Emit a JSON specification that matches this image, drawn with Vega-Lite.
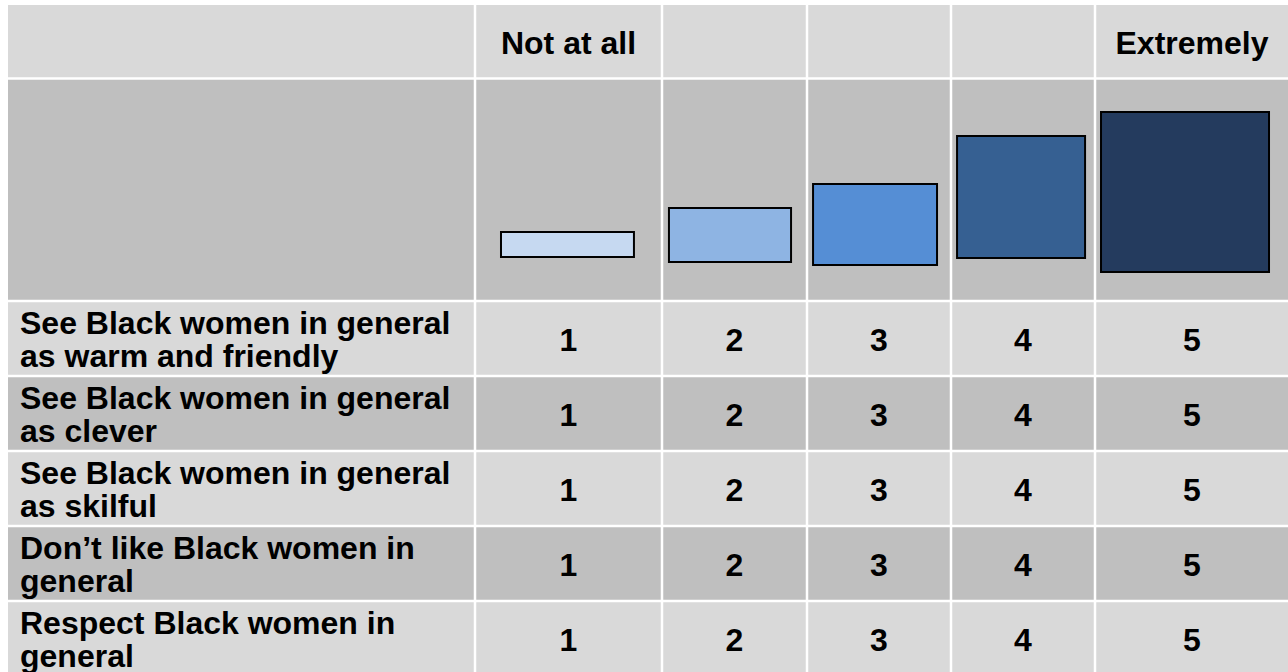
{
  "$schema": "https://vega.github.io/schema/vega-lite/v6.json",
  "width": 1288,
  "height": 672,
  "padding": 0,
  "autosize": {"type": "fit", "contains": "padding"},
  "background": "#ffffff",
  "config": {"view": {"stroke": null}, "text": {"font": "Liberation Sans"}},
  "datasets": {
    "rows": [
      {"r": 0, "r2": 1, "shade": "light"},
      {"r": 1, "r2": 2, "shade": "dark"},
      {"r": 2, "r2": 3, "shade": "light"},
      {"r": 3, "r2": 4, "shade": "dark"},
      {"r": 4, "r2": 5, "shade": "light"},
      {"r": 5, "r2": 6, "shade": "dark"},
      {"r": 6, "r2": 7, "shade": "light"}
    ],
    "colBorders": [{"c": 1}, {"c": 2}, {"c": 3}, {"c": 4}, {"c": 5}],
    "rowBorders": [{"r": 1}, {"r": 2}, {"r": 3}, {"r": 4}, {"r": 5}, {"r": 6}],
    "bars": [
      {"level": 1, "x0": 1.139, "x1": 1.850, "y0": 1.690, "y1": 1.802},
      {"level": 2, "x0": 2.048, "x1": 2.890, "y0": 1.582, "y1": 1.825},
      {"level": 3, "x0": 3.042, "x1": 3.903, "y0": 1.474, "y1": 1.838},
      {"level": 4, "x0": 4.042, "x1": 4.931, "y0": 1.258, "y1": 1.807},
      {"level": 5, "x0": 5.031, "x1": 5.897, "y0": 1.151, "y1": 1.870}
    ],
    "labels": [
      {"c": 0, "r": 2, "t": "See Black women in general\nas warm and friendly"},
      {"c": 0, "r": 3, "t": "See Black women in general\nas clever"},
      {"c": 0, "r": 4, "t": "See Black women in general\nas skilful"},
      {"c": 0, "r": 5, "t": "Don’t like Black women in\ngeneral"},
      {"c": 0, "r": 6, "t": "Respect Black women in\ngeneral"}
    ],
    "cells": [
      {"c": 1, "r": 0, "t": "Not at all"},
      {"c": 5, "r": 0, "t": "Extremely"},
      {"c": 1, "r": 2, "t": "1"}, {"c": 2, "r": 2, "t": "2"}, {"c": 3, "r": 2, "t": "3"}, {"c": 4, "r": 2, "t": "4"}, {"c": 5, "r": 2, "t": "5"},
      {"c": 1, "r": 3, "t": "1"}, {"c": 2, "r": 3, "t": "2"}, {"c": 3, "r": 3, "t": "3"}, {"c": 4, "r": 3, "t": "4"}, {"c": 5, "r": 3, "t": "5"},
      {"c": 1, "r": 4, "t": "1"}, {"c": 2, "r": 4, "t": "2"}, {"c": 3, "r": 4, "t": "3"}, {"c": 4, "r": 4, "t": "4"}, {"c": 5, "r": 4, "t": "5"},
      {"c": 1, "r": 5, "t": "1"}, {"c": 2, "r": 5, "t": "2"}, {"c": 3, "r": 5, "t": "3"}, {"c": 4, "r": 5, "t": "4"}, {"c": 5, "r": 5, "t": "5"},
      {"c": 1, "r": 6, "t": "1"}, {"c": 2, "r": 6, "t": "2"}, {"c": 3, "r": 6, "t": "3"}, {"c": 4, "r": 6, "t": "4"}, {"c": 5, "r": 6, "t": "5"}
    ]
  },
  "layer": [
    {
      "layer": [
        {
          "data": {"name": "rows"},
          "mark": {"type": "rect"},
          "encoding": {
            "x": {"datum": 0, "type": "quantitative", "axis": null, "scale": {"domain": [0, 1, 2, 3, 4, 5, 6], "range": [8, 475, 662, 807, 951, 1095, 1289], "zero": false, "nice": false}},
            "x2": {"datum": 6},
            "y": {"field": "r", "type": "quantitative", "axis": null, "scale": {"domain": [0, 1, 2, 3, 4, 5, 6, 7], "range": [5, 78.5, 301, 376, 451, 526, 601, 676], "zero": false, "nice": false}},
            "y2": {"field": "r2"},
            "color": {"field": "shade", "type": "nominal", "legend": null, "scale": {"domain": ["light", "dark"], "range": ["#d9d9d9", "#bfbfbf"]}}
          }
        },
        {
          "data": {"name": "colBorders"},
          "mark": {"type": "rule", "stroke": "#ffffff", "strokeWidth": 2.5},
          "encoding": {
            "x": {"field": "c", "type": "quantitative", "axis": null, "scale": {"domain": [0, 1, 2, 3, 4, 5, 6], "range": [8, 475, 662, 807, 951, 1095, 1289], "zero": false, "nice": false}},
            "y": {"datum": 0, "type": "quantitative", "axis": null, "scale": {"domain": [0, 1, 2, 3, 4, 5, 6, 7], "range": [5, 78.5, 301, 376, 451, 526, 601, 676], "zero": false, "nice": false}},
            "y2": {"datum": 7}
          }
        },
        {
          "data": {"name": "rowBorders"},
          "mark": {"type": "rule", "stroke": "#ffffff", "strokeWidth": 2.5},
          "encoding": {
            "x": {"datum": 0, "type": "quantitative", "axis": null, "scale": {"domain": [0, 1, 2, 3, 4, 5, 6], "range": [8, 475, 662, 807, 951, 1095, 1289], "zero": false, "nice": false}},
            "x2": {"datum": 6},
            "y": {"field": "r", "type": "quantitative", "axis": null, "scale": {"domain": [0, 1, 2, 3, 4, 5, 6, 7], "range": [5, 78.5, 301, 376, 451, 526, 601, 676], "zero": false, "nice": false}}
          }
        },
        {
          "data": {"name": "bars"},
          "mark": {"type": "rect", "stroke": "#000000", "strokeWidth": 2},
          "encoding": {
            "x": {"field": "x0", "type": "quantitative", "axis": null, "scale": {"domain": [0, 1, 2, 3, 4, 5, 6], "range": [8, 475, 662, 807, 951, 1095, 1289], "zero": false, "nice": false}},
            "x2": {"field": "x1"},
            "y": {"field": "y0", "type": "quantitative", "axis": null, "scale": {"domain": [0, 1, 2, 3, 4, 5, 6, 7], "range": [5, 78.5, 301, 376, 451, 526, 601, 676], "zero": false, "nice": false}},
            "y2": {"field": "y1"},
            "fill": {"field": "level", "type": "ordinal", "legend": null, "scale": {"domain": [1, 2, 3, 4, 5], "range": ["#c6d9f1", "#8eb4e3", "#558ed5", "#366092", "#243b5e"]}}
          }
        }
      ]
    },
    {
      "layer": [
        {
          "data": {"name": "labels"},
          "mark": {"type": "text", "align": "left", "baseline": "middle", "fontSize": 32, "fontWeight": "bold", "lineBreak": "\n", "lineHeight": 33, "dy": -16.5, "color": "#000000"},
          "encoding": {
            "x": {"field": "c", "type": "quantitative", "axis": null, "scale": {"domain": [0, 1, 2, 3, 4, 5], "range": [20, 568.5, 734.5, 879, 1023, 1192], "zero": false, "nice": false}},
            "y": {"field": "r", "type": "quantitative", "axis": null, "scale": {"domain": [0, 1, 2, 3, 4, 5, 6], "range": [43.5, 190, 340.5, 415.5, 490.5, 565.5, 640.5], "zero": false, "nice": false}},
            "text": {"field": "t"}
          }
        },
        {
          "data": {"name": "cells"},
          "mark": {"type": "text", "align": "center", "baseline": "middle", "fontSize": 32, "fontWeight": "bold", "color": "#000000"},
          "encoding": {
            "x": {"field": "c", "type": "quantitative", "axis": null, "scale": {"domain": [0, 1, 2, 3, 4, 5], "range": [20, 568.5, 734.5, 879, 1023, 1192], "zero": false, "nice": false}},
            "y": {"field": "r", "type": "quantitative", "axis": null, "scale": {"domain": [0, 1, 2, 3, 4, 5, 6], "range": [43.5, 190, 340.5, 415.5, 490.5, 565.5, 640.5], "zero": false, "nice": false}},
            "text": {"field": "t"}
          }
        }
      ]
    }
  ],
  "resolve": {"scale": {"x": "independent", "y": "independent"}}
}
